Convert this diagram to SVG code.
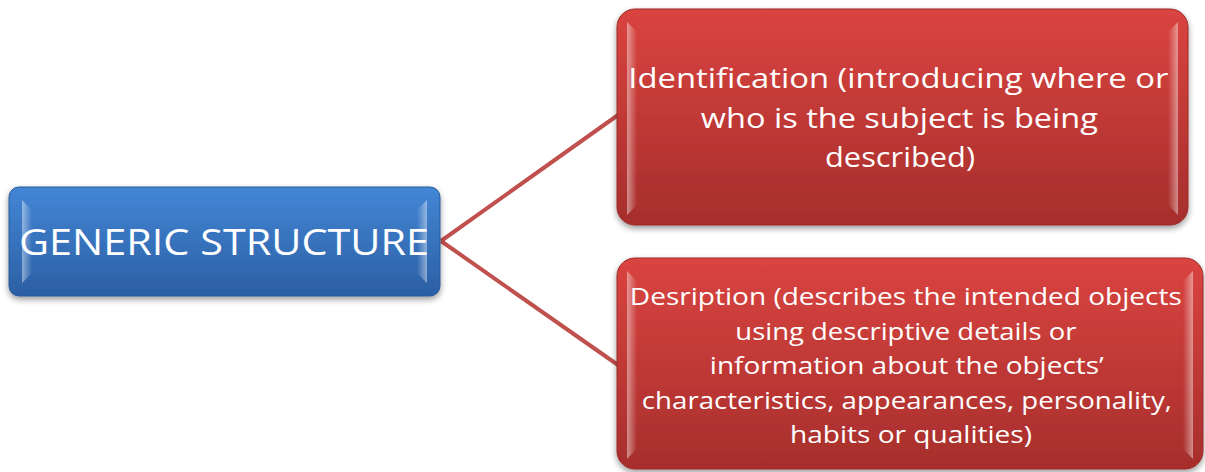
<svg xmlns="http://www.w3.org/2000/svg" width="1205" height="472" viewBox="0 0 1205 472">
<style>
.t{font-family:"Open Sans","Liberation Sans",sans-serif;fill:#fff;text-anchor:middle}
.conn{stroke:#c0504d;stroke-width:4;fill:none}
</style>
<defs>
<linearGradient id="gb" x1="0" y1="0" x2="0" y2="1">
<stop offset="0" stop-color="#4386d6"/><stop offset="1" stop-color="#2b5fa3"/>
</linearGradient>
<linearGradient id="gr" x1="0" y1="0" x2="0" y2="1">
<stop offset="0" stop-color="#da4440"/><stop offset="1" stop-color="#a62e2c"/>
</linearGradient>
<linearGradient id="edgeL" x1="0" y1="0" x2="1" y2="0">
<stop offset="0" stop-color="#fff" stop-opacity="0.45"/><stop offset="1" stop-color="#fff" stop-opacity="0"/>
</linearGradient>
<linearGradient id="edgeR" x1="1" y1="0" x2="0" y2="0">
<stop offset="0" stop-color="#fff" stop-opacity="0.45"/><stop offset="1" stop-color="#fff" stop-opacity="0"/>
</linearGradient>
<filter id="sh" x="-5%" y="-10%" width="110%" height="125%">
<feGaussianBlur in="SourceAlpha" stdDeviation="3"/>
<feOffset dx="0" dy="3" result="b"/>
<feComponentTransfer><feFuncA type="linear" slope="0.4"/></feComponentTransfer>
<feMerge><feMergeNode/><feMergeNode in="SourceGraphic"/></feMerge>
</filter>
</defs>
<g id="connectors">
<line class="conn" x1="441" y1="241" x2="618" y2="115"/>
<line class="conn" x1="441" y1="241" x2="618" y2="365"/>
</g>
<g id="generic">
<rect x="9" y="187" width="431" height="109" rx="10" fill="url(#gb)" stroke="#2a5a96" stroke-width="1" filter="url(#sh)"/>
<polygon points="22,200 32,210 32,273 22,283" fill="url(#edgeL)"/>
<polygon points="427,200 417,210 417,273 427,283" fill="url(#edgeR)"/>
<text class="t" x="224" y="255" font-size="37" textLength="410" lengthAdjust="spacingAndGlyphs">GENERIC STRUCTURE</text>
</g>
<g id="identification">
<rect x="617" y="9" width="571" height="216" rx="18" fill="url(#gr)" stroke="#9b2a28" stroke-width="1" filter="url(#sh)"/>
<polygon points="627,22 637,32 637,205 627,215" fill="url(#edgeL)"/>
<polygon points="1178,22 1168,32 1168,205 1178,215" fill="url(#edgeR)"/>
<text class="t" font-size="28">
<tspan x="902" y="88" textLength="540" lengthAdjust="spacingAndGlyphs">Identification (introducing where or</tspan>
<tspan x="903" y="128" textLength="397" lengthAdjust="spacingAndGlyphs">who is the subject is being</tspan>
<tspan x="900" y="167" textLength="150" lengthAdjust="spacingAndGlyphs">described)</tspan>
</text>
</g>
<g id="description">
<rect x="617" y="258" width="586" height="211" rx="18" fill="url(#gr)" stroke="#9b2a28" stroke-width="1" filter="url(#sh)"/>
<polygon points="627,271 637,281 637,449 627,459" fill="url(#edgeL)"/>
<polygon points="1193,271 1183,281 1183,449 1193,459" fill="url(#edgeR)"/>
<text class="t" font-size="24">
<tspan x="909" y="305" textLength="552" lengthAdjust="spacingAndGlyphs">Desription (describes the intended objects</tspan>
<tspan x="909" y="340" textLength="341" lengthAdjust="spacingAndGlyphs">using descriptive details or</tspan>
<tspan x="910" y="374" textLength="394" lengthAdjust="spacingAndGlyphs">information about the objects’</tspan>
<tspan x="910" y="409" textLength="530" lengthAdjust="spacingAndGlyphs">characteristics, appearances, personality,</tspan>
<tspan x="911" y="443" textLength="242" lengthAdjust="spacingAndGlyphs">habits or qualities)</tspan>
</text>
</g>
</svg>
